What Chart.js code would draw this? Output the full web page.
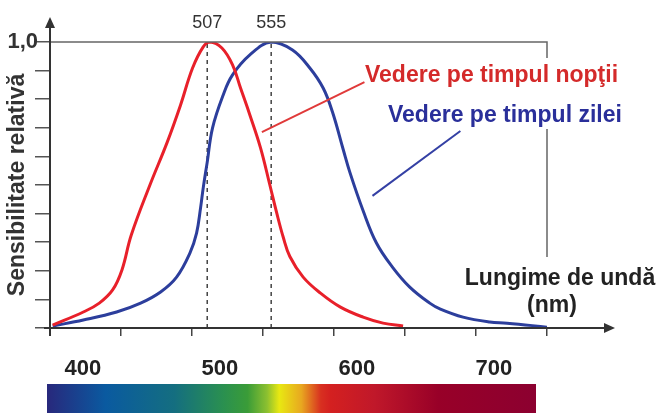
<!DOCTYPE html>
<html>
<head>
<meta charset="utf-8">
<script src="https://cdn.jsdelivr.net/npm/chart.js@4.4.1/dist/chart.umd.min.js"></script>
<style>
  html, body { margin: 0; padding: 0; background: #fff; }
  #wrap { width: 656px; height: 413px; position: relative; }
</style>
</head>
<body>
<div id="wrap"><canvas id="chart"></canvas></div>
<script>
// night (scotopic) curve
const nightNm = [391, 414, 426, 436, 443, 450, 464, 477, 487, 496, 504, 509, 518, 526, 532, 539, 547, 554, 559, 564, 569, 579, 592, 607, 624, 639, 654];
const nightValues = [0.01, 0.056, 0.087, 0.133, 0.203, 0.325, 0.5, 0.65, 0.78, 0.909, 0.983, 1.0, 0.979, 0.92, 0.839, 0.745, 0.63, 0.5, 0.405, 0.318, 0.25, 0.178, 0.122, 0.073, 0.038, 0.017, 0.007];

// day (photopic) curve
const dayNm = [391, 414, 439, 457, 472, 484, 494, 499, 502, 504, 507, 511, 519, 526, 539, 555, 571, 584, 594, 601, 609, 614, 624, 634, 646, 659, 674, 682, 699, 719, 732, 762];
const dayValues = [0.007, 0.028, 0.056, 0.087, 0.126, 0.178, 0.262, 0.332, 0.42, 0.49, 0.58, 0.7, 0.815, 0.885, 0.955, 1.0, 0.972, 0.909, 0.839, 0.755, 0.625, 0.545, 0.41, 0.297, 0.213, 0.143, 0.087, 0.066, 0.038, 0.021, 0.017, 0.003];

const peakNm = [507, 555];
const xTickLabels = [400, 500, 600, 700];
const yTickValues = [0, 0.1, 0.2, 0.3, 0.4, 0.5, 0.6, 0.7, 0.8, 0.9, 1.0];
const nightPointer = [[548, 0.685], [625, 0.86]];
const dayPointer = [[631, 0.462], [697, 0.689]];

const nightLabel = "Vedere pe timpul nopţii";
const dayLabel = "Vedere pe timpul zilei";
const xTitle = ["Lungime de undă", "(nm)"];
const yTitle = "Sensibilitate relativă";

const xMin = 389;
const xMax = 762;
const font = "'Liberation Sans', Arial, sans-serif";

function points(xs, ys) {
  return xs.map((x, i) => ({ x, y: ys[i] }));
}

function pairPoints(pairs) {
  return pairs.map(([x, y]) => ({ x, y }));
}

const decorations = {
  id: "decorations",
  afterDatasetsDraw(chart) {
    const { ctx, chartArea } = chart;
    const { left, right, top, bottom } = chartArea;
    const x = chart.scales.x;
    ctx.save();

    // frame on top and right, broken where the labels sit
    ctx.strokeStyle = "#666";
    ctx.lineWidth = 1.5;
    ctx.beginPath();
    ctx.moveTo(left, top);
    ctx.lineTo(right, top);
    ctx.lineTo(right, top + 16);
    ctx.moveTo(right, 129);
    ctx.lineTo(right, 257);
    ctx.stroke();

    // axes with arrows
    ctx.strokeStyle = "#333";
    ctx.fillStyle = "#333";
    ctx.lineWidth = 2;
    ctx.beginPath();
    ctx.moveTo(left, bottom + 8);
    ctx.lineTo(left, 26);
    ctx.moveTo(left - 6, bottom);
    ctx.lineTo(606, bottom);
    ctx.stroke();
    ctx.beginPath();
    ctx.moveTo(left, 17);
    ctx.lineTo(left - 5, 28);
    ctx.lineTo(left + 5, 28);
    ctx.closePath();
    ctx.fill();
    ctx.beginPath();
    ctx.moveTo(615, bottom);
    ctx.lineTo(604, bottom - 5);
    ctx.lineTo(604, bottom + 5);
    ctx.closePath();
    ctx.fill();

    // peak wavelengths above the frame
    ctx.font = `18px ${font}`;
    ctx.textAlign = "center";
    ctx.textBaseline = "middle";
    ctx.fillStyle = "#333";
    for (const nm of peakNm) {
      ctx.fillText(String(nm), x.getPixelForValue(nm), 23);
    }

    // curve labels
    ctx.font = `bold 23px ${font}`;
    ctx.textAlign = "left";
    ctx.textBaseline = "alphabetic";
    ctx.fillStyle = "#d42a2a";
    ctx.fillText(nightLabel, 365, 82);
    ctx.fillStyle = "#2a2f9a";
    ctx.fillText(dayLabel, 388, 122);

    // axis title on the right
    ctx.fillStyle = "#222";
    ctx.textAlign = "center";
    ctx.fillText(xTitle[0], 560, 285);
    ctx.fillText(xTitle[1], 552, 312);

    // spectrum strip
    const grad = ctx.createLinearGradient(47, 0, 536, 0);
    const stops = [
      [0, "#28287c"], [0.12, "#0a5aa0"], [0.26, "#146e80"], [0.36, "#2a9050"],
      [0.41, "#3a9c38"], [0.45, "#8cc030"], [0.475, "#e8e812"], [0.52, "#e8a820"],
      [0.56, "#d83020"], [0.58, "#d42020"], [0.67, "#c0182a"], [0.8, "#980028"], [1, "#8c0030"],
    ];
    for (const [pos, color] of stops) {
      grad.addColorStop(pos, color);
    }
    ctx.fillStyle = grad;
    ctx.fillRect(47, 384, 489, 30);
    ctx.restore();
  },
};

new Chart(document.querySelector("#chart"), {
  type: "line",
  data: {
    datasets: [
      { data: pairPoints(nightPointer), borderColor: "#e03a3a", borderWidth: 2, tension: 0 },
      { data: pairPoints(dayPointer), borderColor: "#3440a4", borderWidth: 2, tension: 0 },
      { data: points(nightNm, nightValues), borderColor: "#e8202a", borderWidth: 3, tension: 0.4 },
      { data: points(dayNm, dayValues), borderColor: "#2c3e9c", borderWidth: 3, tension: 0.4 },
      ...peakNm.map((nm) => ({
        data: [{ x: nm, y: 0 }, { x: nm, y: 1 }],
        borderColor: "#444",
        borderWidth: 1.5,
        borderDash: [4, 4],
      })),
    ],
  },
  options: {
    responsive: true,
    maintainAspectRatio: false,
    animation: false,
    layout: { padding: { left: 0, right: 109, top: 42, bottom: 0 } },
    elements: { point: { radius: 0 } },
    plugins: { legend: { display: false }, tooltip: { enabled: false } },
    scales: {
      x: {
        type: "linear",
        min: xMin,
        max: xMax,
        border: { display: false },
        grid: { drawOnChartArea: false, drawTicks: true, tickLength: 8, color: "#444", lineWidth: 1.5 },
        ticks: { display: false },
        afterBuildTicks: (scale) => {
          scale.ticks = Array.from({ length: 8 }, (_, i) => ({ value: xMin + (i * (xMax - xMin)) / 7 }));
        },
        afterFit: (scale) => { scale.height = 8; },
      },
      x2: {
        type: "linear",
        position: "bottom",
        min: 376,
        max: 738.7,
        border: { display: false },
        grid: { display: false },
        ticks: {
          padding: 12,
          color: "#222",
          font: { family: font, size: 22, weight: "bold" },
        },
        afterBuildTicks: (scale) => {
          scale.ticks = xTickLabels.map((value) => ({ value }));
        },
        afterFit: (scale) => { scale.height = 77; },
      },
      y: {
        min: 0,
        max: 1,
        border: { display: false },
        grid: { drawOnChartArea: false, drawTicks: true, tickLength: 15, color: "#555", lineWidth: 1.5 },
        ticks: {
          autoSkip: false,
          padding: -3,
          color: "#333",
          font: { family: font, size: 22, weight: "bold" },
          callback: (value) => (Math.abs(value - 1) < 1e-6 ? "1,0" : ""),
        },
        afterBuildTicks: (scale) => {
          scale.ticks = yTickValues.map((value) => ({ value }));
        },
        title: {
          display: true,
          text: yTitle,
          color: "#333",
          font: { family: font, size: 23, weight: "bold" },
          padding: { top: 4, bottom: 0 },
        },
        afterFit: (scale) => { scale.width = 50; },
      },
    },
  },
  plugins: [decorations],
});
</script>
</body>
</html>
